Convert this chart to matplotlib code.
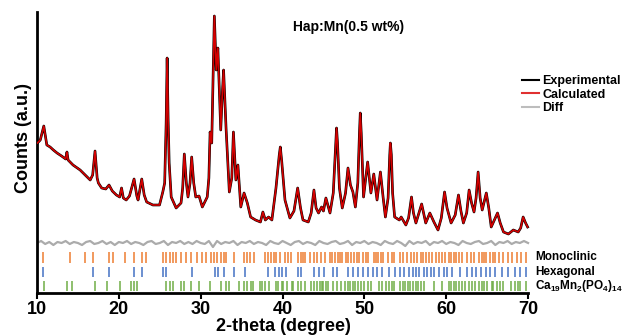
import matplotlib
matplotlib.use("Agg")
import matplotlib.pyplot as plt
from matplotlib.lines import Line2D

plt.rcParams['font.family'] = ['Liberation Sans', 'DejaVu Sans']
plt.rcParams['font.weight'] = 'bold'
plt.rcParams['mathtext.fontset'] = 'custom'
plt.rcParams['mathtext.rm'] = 'Liberation Sans:bold'
plt.rcParams['mathtext.it'] = 'Liberation Sans:bold'
plt.rcParams['mathtext.bf'] = 'Liberation Sans:bold'

# ---- data ----
two_theta = [10.05, 10.4, 10.83, 11.2, 11.6, 12.0, 12.45, 13.0, 13.5, 13.66, 13.8, 14.4, 15.27, 16.0,
             16.5, 16.8, 17.09, 17.35, 17.5, 17.9, 18.4, 18.8, 19.2, 19.7, 20.1, 20.33, 20.55, 20.9,
             21.3, 21.86, 22.2, 22.35, 22.8, 23.1, 23.4, 24.16, 24.97, 25.37, 25.6, 25.78, 25.9, 26.02,
             26.15, 26.4, 27.0, 27.6, 27.8, 28.0, 28.25, 28.45, 28.7, 28.9, 29.15, 29.4, 29.8, 30.2,
             30.8, 31.0, 31.15, 31.35, 31.55, 31.67, 31.78, 31.9, 32.1, 32.25, 32.45, 32.65, 32.8,
             33.1, 33.5, 33.8, 34.0, 34.3, 34.55, 34.9, 35.3, 35.7, 36.1, 36.7, 37.3, 37.6, 37.9,
             38.3, 38.7, 39.2, 39.6, 39.73, 39.9, 40.3, 40.9, 41.4, 41.85, 42.2, 42.5, 43.15, 43.5,
             43.84, 44.1, 44.4, 44.77, 45.0, 45.3, 45.8, 46.2, 46.5, 46.6, 46.72, 46.95, 47.3, 47.7,
             48.0, 48.3, 48.6, 48.9, 49.2, 49.4, 49.5, 49.62, 49.9, 50.4, 50.8, 51.15, 51.55, 51.96,
             52.3, 52.57, 52.9, 53.1, 53.18, 53.3, 53.45, 53.7, 54.27, 54.5, 55.07, 55.4, 55.76, 56.0,
             56.3, 57.0, 57.5, 58.0, 58.5, 59.0, 59.4, 59.8, 60.1, 60.6, 61.1, 61.5, 61.8, 62.1,
             62.5, 62.8, 63.1, 63.4, 63.65, 63.9, 64.15, 64.4, 64.9, 65.2, 65.5, 66.27, 66.6, 67.0,
             67.6, 68.2, 68.8, 69.1, 69.4, 69.7, 69.95]
intensity = [150, 153, 167, 148, 146, 143, 140, 137, 134, 141, 133, 128, 123, 117,
             113, 118, 142, 115, 110, 105, 104, 108, 102, 98, 96, 105, 95, 93,
             97, 114, 97, 93, 114, 98, 91, 88, 88, 101, 110, 170, 235, 175,
             130, 96, 85, 90, 105, 139, 110, 96, 110, 136, 110, 96, 97, 86,
             96, 115, 161, 150, 230, 277, 250, 223, 245, 210, 163, 200, 223,
             165, 101, 115, 161, 113, 128, 86, 100, 90, 76, 73, 71, 81, 73,
             76, 73, 105, 138, 146, 132, 93, 75, 82, 105, 85, 73, 71, 80,
             103, 85, 80, 86, 82, 95, 80, 100, 150, 165, 150, 105, 85, 100,
             125, 108, 101, 86, 110, 160, 180, 160, 96, 131, 100, 119, 93, 121,
             95, 76, 95, 138, 150, 138, 100, 76, 73, 76, 68, 75, 96, 80,
             70, 89, 70, 80, 71, 63, 75, 101, 85, 70, 78, 98, 82, 70,
             80, 103, 90, 81, 95, 121, 95, 83, 100, 85, 66, 80, 70, 61,
             59, 63, 61, 65, 76, 70, 66]

diff_theta = [10, 10.5, 11, 11.5, 12, 12.5, 13, 13.5, 14, 14.5, 15, 15.5, 16, 16.5, 17, 17.5,
              18, 18.5, 19, 19.5, 20, 20.5, 21, 21.5, 22, 22.5, 23, 23.5, 24, 24.5, 25, 25.5,
              26, 26.5, 27, 27.5, 28, 28.5, 29, 29.5, 30, 30.5, 31, 31.5, 32, 32.5, 33, 33.5,
              34, 34.5, 35, 35.5, 36, 36.5, 37, 37.5, 38, 38.5, 39, 39.5, 40, 40.5, 41, 41.5,
              42, 42.5, 43, 43.5, 44, 44.5, 45, 45.5, 46, 46.5, 47, 47.5, 48, 48.5, 49, 49.5,
              50, 50.5, 51, 51.5, 52, 52.5, 53, 53.5, 54, 54.5, 55, 55.5, 56, 56.5, 57, 57.5,
              58, 58.5, 59, 59.5, 60, 60.5, 61, 61.5, 62, 62.5, 63, 63.5, 64, 64.5, 65, 65.5,
              66, 66.5, 67, 67.5, 68, 68.5, 69, 69.5, 70]
diff = [50, 52, 49, 51, 48, 51, 50, 52, 49, 51, 50, 48, 51, 52, 49, 50,
        52, 49, 51, 48, 51, 50, 52, 49, 51, 50, 48, 51, 52, 49, 50, 52,
        48, 51, 50, 52, 49, 51, 49, 52, 50, 49, 52, 46, 52, 49, 51, 50,
        52, 48, 51, 50, 52, 49, 51, 50, 48, 52, 50, 49, 52, 50, 48, 51,
        52, 49, 51, 50, 48, 52, 50, 49, 51, 52, 49, 50, 52, 48, 51, 50,
        52, 49, 51, 50, 48, 52, 50, 49, 52, 50, 47, 52, 49, 51, 50, 52,
        48, 51, 50, 52, 49, 51, 50, 48, 52, 50, 49, 51, 52, 49, 50, 52,
        48, 51, 50, 52, 49, 51, 50, 52, 50]

monoclinic = [10.75, 13.98, 15.9, 16.85, 18.8, 19.25, 20.8, 21.8, 22.8, 23.35, 25.37, 25.8, 26.2,
              26.6, 27.0, 27.55, 28.15, 28.8, 29.6, 30.2, 30.65, 31.2, 31.65, 32.05, 32.45, 32.8,
              33.1, 34.06, 35.3, 35.7, 36.05, 36.5, 37.9, 38.25, 38.6, 38.9, 39.25, 39.7, 40.25,
              40.7, 41.05, 41.9, 42.3, 42.55, 42.8, 43.4, 43.8, 44.2, 44.7, 45.2, 45.8, 46.1, 46.4,
              46.8, 47.05, 47.3, 47.7, 48.0, 48.4, 48.7, 49.1, 49.4, 49.8, 50.2, 50.4, 51.15, 51.4,
              51.7, 52.0, 52.3, 52.9, 53.4, 53.65, 54.3, 54.7, 55.2, 55.7, 56.1, 56.4, 56.9, 57.2,
              57.5, 57.9, 58.3, 58.7, 59.1, 59.5, 59.9, 60.3, 60.6, 60.9, 61.25, 61.55, 61.95, 62.5,
              63.0, 63.4, 63.95, 64.35, 64.6, 64.85, 65.35, 65.75, 65.95, 66.4, 67.0, 67.6, 68.1,
              68.7, 69.2, 69.8]
hexagonal = [10.75, 16.88, 18.82, 21.82, 22.87, 25.37, 25.78, 28.93, 31.76, 32.12, 32.85, 34.06,
             35.39, 38.22, 39.1, 39.6, 39.9, 40.4, 41.9, 42.3, 43.8, 44.4, 45.1, 46.2, 46.6, 48.0,
             48.6, 49.2, 49.8, 50.4, 51.0, 51.6, 52.2, 53.05, 53.7, 54.3, 54.9, 55.5, 56.0, 56.3,
             56.7, 57.3, 57.7, 58.1, 58.5, 59.1, 59.7, 60.1, 60.7, 61.7, 62.5, 63.1, 63.7, 64.3,
             64.85, 65.35, 65.95, 66.8, 67.6, 68.4, 69.0, 69.7]
ca_mn_po4 = [10.8, 13.7, 14.3, 17.1, 18.5, 20.2, 21.45, 21.8, 22.2, 25.8, 26.2, 26.6, 27.6, 28.0,
             28.8, 29.8, 31.1, 32.45, 33.05, 33.5, 34.7, 35.3, 35.7, 36.1, 36.4, 37.3, 37.5, 37.9,
             38.4, 39.2, 39.5, 39.9, 40.1, 40.5, 41.1, 41.3, 41.9, 42.3, 42.7, 43.5, 43.8, 44.2,
             44.6, 44.8, 45.0, 45.3, 45.6, 46.2, 46.6, 47.2, 47.6, 48.0, 48.3, 48.6, 48.8, 49.2,
             49.6, 50.0, 50.4, 50.8, 51.8, 52.2, 52.6, 53.0, 53.4, 53.6, 54.3, 54.7, 55.0, 55.3,
             55.6, 55.9, 56.3, 56.6, 56.9, 57.3, 58.5, 59.5, 60.3, 60.6, 60.9, 61.25, 61.55, 61.95,
             62.35, 62.75, 63.15, 63.55, 63.95, 64.35, 64.6, 64.95, 65.55, 65.75, 66.15, 66.55,
             66.95, 67.95, 68.35, 68.75, 69.05, 69.7]

phase_names = ['Monoclinic', 'Hexagonal', r'Ca$_{19}$Mn$_{2}$(PO$_{4}$)$_{14}$']
phase_colors = ['#ED7D31', '#4472C4', '#70AD47']
xticks = [10, 20, 30, 40, 50, 60, 70]

# ---- figure ----
W, H = 629, 336
fig = plt.figure(figsize=(W / 100, H / 100), dpi=100)
ax = fig.add_axes([37 / W, (H - 293) / H, (530.5 - 37) / W, (293 - 12) / H])

ax.plot(diff_theta, diff, color='#ababab', lw=1.6, zorder=2)
ax.plot(two_theta, intensity, color='black', lw=1.9, zorder=3)
ax.plot(two_theta, intensity, color='#d40000', lw=1.2, zorder=4)

rows = [(30, 41), (16, 26), (2, 12)]
for pos, (y0, y1), c in zip([monoclinic, hexagonal, ca_mn_po4], rows, phase_colors):
    ax.vlines(pos, y0, y1, colors=c, lw=1.1, zorder=2)

ax.set_xlim(10, 70.3)
ax.set_ylim(0, 281)
ax.set_xticks(xticks)
ax.set_xticklabels([str(t) for t in xticks], fontsize=13, fontweight='bold')
ax.set_yticks([])
ax.tick_params(axis='x', direction='out', length=4, width=1.5, pad=2)
for s in ['top', 'right']:
    ax.spines[s].set_visible(False)
for s in ['left', 'bottom']:
    ax.spines[s].set_linewidth(2)
ax.spines['bottom'].set_bounds(10, 70)

ax.set_xlabel('2-theta (degree)', fontsize=13, fontweight='bold', labelpad=0)
fig.text(24 / W, 1 - 138 / H, 'Counts (a.u.)', rotation=90, ha='center', va='center',
         fontsize=13, fontweight='bold')

fig.text(293 / W, 1 - 26.5 / H, 'Hap:Mn(0.5 wt%)', ha='left', va='center',
         fontsize=10, fontweight='bold')

handles = [Line2D([], [], color='black', lw=1.5),
           Line2D([], [], color='#e03030', lw=1.5),
           Line2D([], [], color='#bdbdbd', lw=1.5)]
fig.legend(handles, ['Experimental', 'Calculated', 'Diff'], loc='upper left',
           bbox_to_anchor=(516 / W, 1 - 69 / H), frameon=False,
           handlelength=1.3, handletextpad=0.3, labelspacing=0.12, borderpad=0,
           prop={'weight': 'bold', 'size': 9})

for name, (y0, y1) in zip(phase_names, rows):
    ax.text(70.9, (y0 + y1) / 2, name, ha='left', va='center', fontsize=8.5,
            fontweight='bold', clip_on=False)

fig.savefig('out.png', dpi=100)
